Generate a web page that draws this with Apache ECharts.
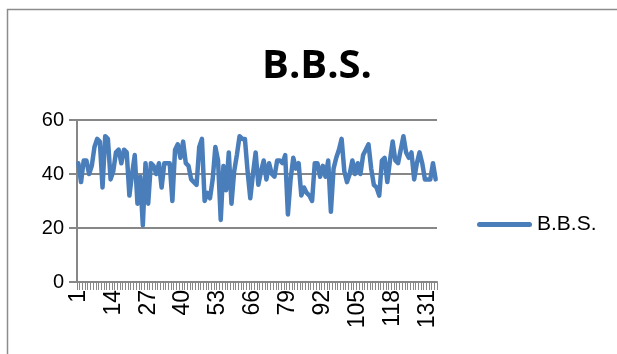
<!DOCTYPE html>
<html>
<head>
<meta charset="utf-8">
<script src="https://cdn.jsdelivr.net/npm/echarts@6/dist/echarts.min.js"></script>
<style>
  html, body { margin: 0; padding: 0; background: #fff; }
  #chart { width: 617px; height: 354px; }
</style>
</head>
<body>
<div id="chart"></div>
<script>
// B.B.S. readings, one per observation (1..134)
const seriesName = 'B.B.S.';
const bbsValues = [
  44, 37, 45, 45, 40, 43, 50, 53, 52, 35,
  54, 53, 38, 41, 48, 49, 44, 49, 48, 32,
  40, 47, 29, 39, 21, 44, 29, 44, 43, 40,
  44, 35, 44, 44, 44, 30, 49, 51, 46, 52,
  44, 43, 38, 37, 36, 50, 53, 30, 33, 31,
  38, 50, 45, 23, 43, 34, 48, 29, 41, 47,
  54, 53, 53, 41, 31, 40, 48, 36, 41, 45,
  38, 44, 40, 39, 45, 45, 44, 47, 25, 38,
  46, 42, 44, 32, 35, 33, 32, 30, 44, 44,
  39, 43, 39, 45, 26, 42, 46, 49, 53, 41,
  37, 40, 45, 40, 44, 40, 47, 49, 51, 42,
  36, 35, 32, 45, 46, 37, 45, 52, 45, 44,
  49, 54, 48, 46, 48, 38, 44, 48, 44, 38,
  38, 38, 44, 38
];
const categories = bbsValues.map((_, i) => String(i + 1));
const yTicks = { min: 0, max: 60, interval: 20 };

const chart = echarts.init(document.getElementById('chart'), null, { renderer: 'canvas' });
const axisGray = '#878787';
const lineBlue = '#4A7EBB';

chart.setOption({
  animation: false,
  backgroundColor: '#ffffff',
  title: {
    text: 'B.B.S.',
    left: 257,
    top: 42,
    textStyle: { fontFamily: 'Open Sans', fontWeight: 'bold', fontSize: 40, color: '#000' }
  },
  legend: {
    left: 477,
    top: 214,
    padding: 0,
    itemWidth: 55,
    itemHeight: 14,
    itemGap: 5,
    textStyle: { fontFamily: 'Liberation Sans', fontSize: 21, color: '#000' },
    data: [{ name: seriesName, icon: 'path://M2.5,0 L52.5,0 A2.5,2.5 0 0 1 52.5,5 L2.5,5 A2.5,2.5 0 0 1 2.5,0 Z' }]
  },
  graphic: [{
    type: 'rect',
    shape: { x: 7.5, y: 9.5, width: 700, height: 400 },
    style: { fill: 'none', stroke: '#8c8c8c', lineWidth: 1.5 },
    silent: true
  }],
  grid: { left: 77, right: 180, top: 120, bottom: 72, containLabel: false },
  xAxis: {
    type: 'category',
    data: categories,
    boundaryGap: true,
    axisLine: { lineStyle: { color: axisGray, width: 2 } },
    axisTick: { show: true, interval: 0, length: 8, lineStyle: { color: axisGray, width: 1 } },
    axisLabel: {
      interval: 12,
      rotate: 90,
      margin: 8,
      fontFamily: 'Liberation Sans',
      fontSize: 23,
      color: '#000'
    },
    splitLine: { show: false }
  },
  yAxis: {
    type: 'value',
    min: yTicks.min,
    max: yTicks.max,
    interval: yTicks.interval,
    axisLine: { show: true, lineStyle: { color: axisGray, width: 2 } },
    axisTick: { show: true, inside: false, length: 8, lineStyle: { color: axisGray, width: 2 } },
    axisLabel: { margin: 13, fontFamily: 'Liberation Sans', fontSize: 20, color: '#000' },
    splitLine: { show: true, lineStyle: { color: axisGray, width: 2 } }
  },
  series: [{
    name: seriesName,
    type: 'line',
    data: bbsValues,
    symbol: 'none',
    smooth: false,
    lineStyle: { color: lineBlue, width: 4.5, cap: 'round', join: 'round' },
    itemStyle: { color: lineBlue }
  }]
});
</script>
</body>
</html>
